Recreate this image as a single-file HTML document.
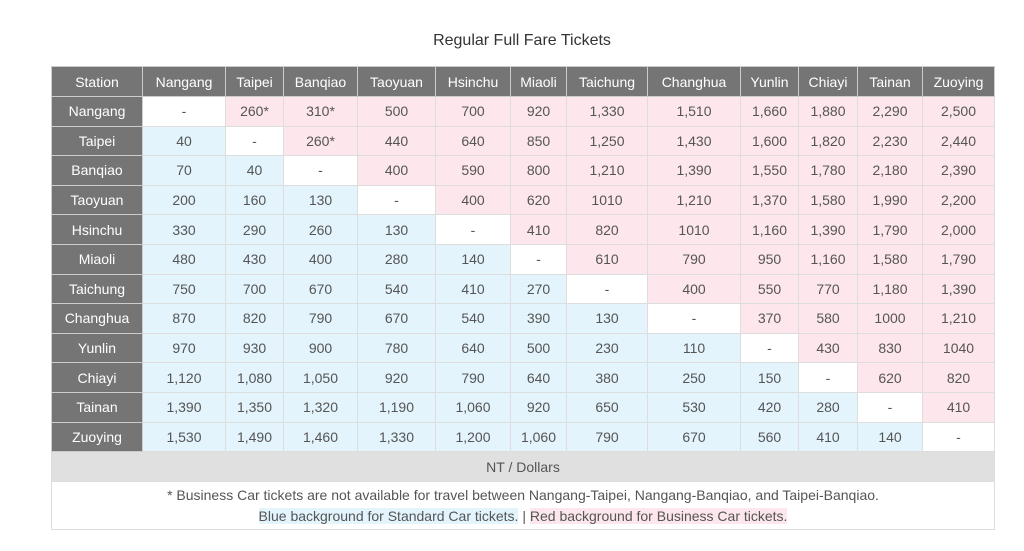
<!DOCTYPE html>
<html><head><meta charset="utf-8"><style>
body{margin:0;background:#fff;font-family:"Liberation Sans",Arial,sans-serif;color:#555;}
h1{position:absolute;top:32px;left:0;width:1044px;text-align:center;font-size:16px;font-weight:normal;color:#333;margin:0;}
table{position:absolute;left:51px;top:66px;border-collapse:collapse;table-layout:fixed;width:943px;font-size:14px;}
td,th{border:1px solid #ddd;text-align:center;padding:0;height:28.6px;font-weight:normal;}
th{background:#757575;color:#fff;border-color:#ccc;}
thead th{height:29px;}
.b{background:#e3f4fd;}.p{background:#fde7ec;}.w{background:#fff;}
.nt{background:#e0e0e0;height:29px;}
.note{height:47px;line-height:21px;padding-top:0;}
.hb{background:#e3f4fd;}.hp{background:#fde7ec;}
</style></head><body>
<h1>Regular Full Fare Tickets</h1>
<table>
<colgroup><col style="width:91px"><col style="width:83px"><col style="width:58px"><col style="width:74px"><col style="width:78px"><col style="width:75px"><col style="width:56px"><col style="width:81px"><col style="width:93px"><col style="width:58px"><col style="width:59px"><col style="width:65px"><col style="width:72px"></colgroup>
<thead><tr><th>Station</th><th>Nangang</th><th>Taipei</th><th>Banqiao</th><th>Taoyuan</th><th>Hsinchu</th><th>Miaoli</th><th>Taichung</th><th>Changhua</th><th>Yunlin</th><th>Chiayi</th><th>Tainan</th><th>Zuoying</th></tr></thead>
<tbody>
<tr><th>Nangang</th><td class="w">-</td><td class="p">260*</td><td class="p">310*</td><td class="p">500</td><td class="p">700</td><td class="p">920</td><td class="p">1,330</td><td class="p">1,510</td><td class="p">1,660</td><td class="p">1,880</td><td class="p">2,290</td><td class="p">2,500</td></tr>
<tr><th>Taipei</th><td class="b">40</td><td class="w">-</td><td class="p">260*</td><td class="p">440</td><td class="p">640</td><td class="p">850</td><td class="p">1,250</td><td class="p">1,430</td><td class="p">1,600</td><td class="p">1,820</td><td class="p">2,230</td><td class="p">2,440</td></tr>
<tr><th>Banqiao</th><td class="b">70</td><td class="b">40</td><td class="w">-</td><td class="p">400</td><td class="p">590</td><td class="p">800</td><td class="p">1,210</td><td class="p">1,390</td><td class="p">1,550</td><td class="p">1,780</td><td class="p">2,180</td><td class="p">2,390</td></tr>
<tr><th>Taoyuan</th><td class="b">200</td><td class="b">160</td><td class="b">130</td><td class="w">-</td><td class="p">400</td><td class="p">620</td><td class="p">1010</td><td class="p">1,210</td><td class="p">1,370</td><td class="p">1,580</td><td class="p">1,990</td><td class="p">2,200</td></tr>
<tr><th>Hsinchu</th><td class="b">330</td><td class="b">290</td><td class="b">260</td><td class="b">130</td><td class="w">-</td><td class="p">410</td><td class="p">820</td><td class="p">1010</td><td class="p">1,160</td><td class="p">1,390</td><td class="p">1,790</td><td class="p">2,000</td></tr>
<tr><th>Miaoli</th><td class="b">480</td><td class="b">430</td><td class="b">400</td><td class="b">280</td><td class="b">140</td><td class="w">-</td><td class="p">610</td><td class="p">790</td><td class="p">950</td><td class="p">1,160</td><td class="p">1,580</td><td class="p">1,790</td></tr>
<tr><th>Taichung</th><td class="b">750</td><td class="b">700</td><td class="b">670</td><td class="b">540</td><td class="b">410</td><td class="b">270</td><td class="w">-</td><td class="p">400</td><td class="p">550</td><td class="p">770</td><td class="p">1,180</td><td class="p">1,390</td></tr>
<tr><th>Changhua</th><td class="b">870</td><td class="b">820</td><td class="b">790</td><td class="b">670</td><td class="b">540</td><td class="b">390</td><td class="b">130</td><td class="w">-</td><td class="p">370</td><td class="p">580</td><td class="p">1000</td><td class="p">1,210</td></tr>
<tr><th>Yunlin</th><td class="b">970</td><td class="b">930</td><td class="b">900</td><td class="b">780</td><td class="b">640</td><td class="b">500</td><td class="b">230</td><td class="b">110</td><td class="w">-</td><td class="p">430</td><td class="p">830</td><td class="p">1040</td></tr>
<tr><th>Chiayi</th><td class="b">1,120</td><td class="b">1,080</td><td class="b">1,050</td><td class="b">920</td><td class="b">790</td><td class="b">640</td><td class="b">380</td><td class="b">250</td><td class="b">150</td><td class="w">-</td><td class="p">620</td><td class="p">820</td></tr>
<tr><th>Tainan</th><td class="b">1,390</td><td class="b">1,350</td><td class="b">1,320</td><td class="b">1,190</td><td class="b">1,060</td><td class="b">920</td><td class="b">650</td><td class="b">530</td><td class="b">420</td><td class="b">280</td><td class="w">-</td><td class="p">410</td></tr>
<tr><th>Zuoying</th><td class="b">1,530</td><td class="b">1,490</td><td class="b">1,460</td><td class="b">1,330</td><td class="b">1,200</td><td class="b">1,060</td><td class="b">790</td><td class="b">670</td><td class="b">560</td><td class="b">410</td><td class="b">140</td><td class="w">-</td></tr>
<tr><td class="nt" colspan="13">NT / Dollars</td></tr>
<tr><td class="note" colspan="13">* Business Car tickets are not available for travel between Nangang-Taipei, Nangang-Banqiao, and Taipei-Banqiao.<br><span class="hb">Blue background for Standard Car tickets.</span> | <span class="hp">Red background for Business Car tickets.</span></td></tr>
</tbody></table>
</body></html>
